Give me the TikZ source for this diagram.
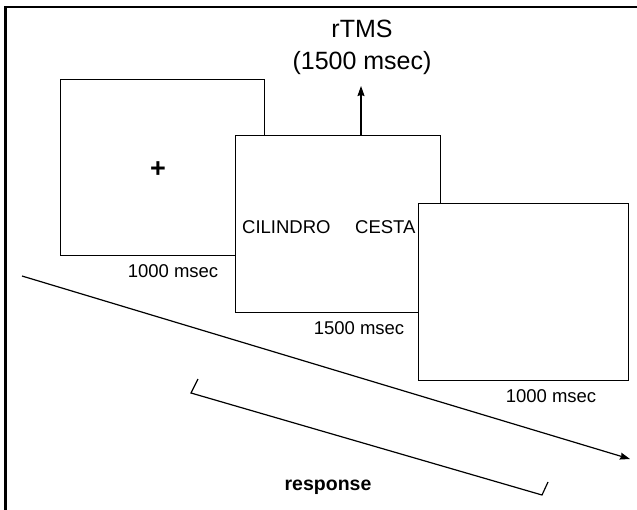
\documentclass[tikz,border=0pt]{standalone}
\usepackage{fontspec}
\setmainfont{Liberation Sans}
\usetikzlibrary{arrows.meta}
\begin{document}
\begin{tikzpicture}[x=1bp,y=-1bp,
  screen/.style={draw=black,line width=1.2bp,fill=white,anchor=north west,inner sep=0pt},
  lbl/.style={inner sep=0pt,font=\fontsize{18.5bp}{22bp}\selectfont},
  big/.style={inner sep=0pt,align=center,font=\fontsize{25bp}{32bp}\selectfont},
  conn/.style={line width=1.2bp},
  tip/.style={-{Stealth[length=10bp,width=7bp,inset=1bp]}}]
\useasboundingbox (0,0) rectangle (637,510);
% frame (top and left edges)
\draw[line width=2.5bp] (5.5,510) -- (5.5,7) -- (637,7);
% screens
\node[screen,minimum width=204bp,minimum height=176bp] (s1) at (60,79) {};
\node[screen,minimum width=205bp,minimum height=177bp] (s2) at (235,135) {};
\node[screen,minimum width=210bp,minimum height=177bp] (s3) at (418,203) {};
% texts
\node[inner sep=0pt,font=\fontsize{27bp}{28bp}\selectfont\bfseries] (plus) at (158,170) {+};
\node[lbl,anchor=west] (w1) at (242,227) {CILINDRO};
\node[lbl,anchor=west] (w2) at (355,227) {CESTA};
\node[lbl] (t1) at (173,271) {1000 msec};
\node[lbl] (t2) at (359,328) {1500 msec};
\node[lbl] (t3) at (551,396) {1000 msec};
\node[big] (rtms) at (362,47) {rTMS\\(1500 msec)};
\node[inner sep=0pt,font=\fontsize{19.5bp}{22bp}\selectfont\bfseries] (resp) at (328,487) {response};
% rTMS arrow
\coordinate (ra) at (361,135);
\coordinate (rb) at (361,86);
\draw[conn,tip] (ra) -- (rb);
% time arrow
\coordinate (ts) at (22,276);
\coordinate (te) at (630,459);
\draw[conn,tip] (ts) -- (te);
% response bracket
\coordinate (b1) at (198,379);
\coordinate (b2) at (191,393);
\coordinate (b3) at (542,495);
\coordinate (b4) at (548,482);
\draw[conn] (b1) -- (b2) -- (b3) -- (b4);
\end{tikzpicture}
\end{document}
